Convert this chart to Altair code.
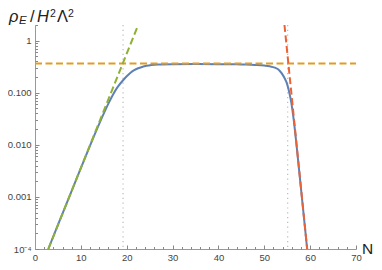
import altair as alt
import pandas as pd

FONT = "Liberation Sans"

# ---- data ----
blue_N = [2.9, 5, 8, 11, 14, 16, 17, 18, 19.3, 20, 21.2, 22, 23.3, 24.3, 25.4, 27, 30, 35, 40,
          44, 46, 48, 50, 51.2, 52.3, 53.3, 54.3, 55.0, 55.5, 55.9, 56.4, 57, 58, 59.35]
blue_rho = [1.0e-4, 2.9e-4, 1.3e-3, 5.9e-3, 0.0253, 0.062, 0.092, 0.128, 0.178, 0.207, 0.258,
            0.283, 0.312, 0.330, 0.342, 0.349, 0.353, 0.355, 0.354,
            0.351, 0.347, 0.341, 0.332, 0.322, 0.303, 0.268, 0.200, 0.145, 0.097, 0.064,
            0.031, 0.0105, 1.45e-3, 1.0e-4]

green_N = [2.9, 22.5]
green_rho = [1.0e-4, 2.0]

red_N = [54.4, 59.35]
red_rho = [2.0, 1.0e-4]

orange_N = [0, 70]
orange_rho = [0.364, 0.364]

vlines_N = [19.2, 55.1]

x_major = [0, 10, 20, 30, 40, 50, 60, 70]
x_minor = [2, 4, 6, 8, 12, 14, 16, 18, 22, 24, 26, 28, 32, 34, 36, 38,
           42, 44, 46, 48, 52, 54, 56, 58, 62, 64, 66, 68]
y_major = [1e-4, 1e-3, 1e-2, 1e-1, 1]
y_minor_mult = [2, 3, 4, 5, 6, 7, 8, 9]
y_minor = [m * d for d in [1e-4, 1e-3, 1e-2, 1e-1] for m in y_minor_mult] + [2]

W, H = 321, 224
TICK = "#888888"
MAJ, MIN = 4, 2.5

xs = alt.Scale(domain=[0, 70], nice=False, zero=False)
ys = alt.Scale(type="log", domain=[1e-4, 2], nice=False)

x_axis = alt.Axis(values=x_major, labelFont=FONT, labelFontSize=9.5, labelColor="#444",
                  domainColor="#999", domainWidth=1, ticks=False, tickSize=0,
                  labelPadding=3, grid=False, title=None, labelFlush=False)
y_axis = alt.Axis(values=y_major, labelFont=FONT, labelFontSize=9.5, labelColor="#444",
                  domainColor="#999", domainWidth=1, ticks=False, tickSize=0,
                  labelPadding=4, grid=False, title=None, labelFlush=False,
                  labelExpr="datum.value < 0.0005 ? '10⁻⁴' : datum.value < 0.005 ? '0.001' : "
                            "datum.value < 0.05 ? '0.010' : datum.value < 0.5 ? '0.100' : '1'")

# major ticks: opposite-side axes moved onto the plot edge, so they point inward
maj_x = alt.Axis(orient="top", offset=-H, values=x_major, labels=False, domain=False,
                 ticks=True, tickColor=TICK, tickSize=MAJ, tickWidth=1, grid=False, title=None)
maj_y = alt.Axis(orient="right", offset=-W, values=y_major, labels=False, domain=False,
                 ticks=True, tickColor=TICK, tickSize=MAJ, tickWidth=1, grid=False, title=None)
# minor ticks: same-side axes pulled inward by their own length
min_x = alt.Axis(orient="bottom", offset=-MIN, values=x_minor, labels=False, domain=False,
                 ticks=True, tickColor=TICK, tickSize=MIN, tickWidth=1, grid=False, title=None)
min_y = alt.Axis(orient="left", offset=-MIN, values=y_minor, labels=False, domain=False,
                 ticks=True, tickColor=TICK, tickSize=MIN, tickWidth=1, grid=False, title=None)

blue_df = pd.DataFrame({"N": blue_N, "rho": blue_rho})
green_df = pd.DataFrame({"N": green_N, "rho": green_rho})
red_df = pd.DataFrame({"N": red_N, "rho": red_rho})
orange_df = pd.DataFrame({"N": orange_N, "rho": orange_rho})
vl_df = pd.DataFrame({"N": vlines_N})

rules = alt.Chart(vl_df).mark_rule(color="#bbbbbb", strokeWidth=1.2, strokeDash=[1.2, 3.6]).encode(
    x=alt.X("N:Q", scale=xs, axis=None))

blue = alt.Chart(blue_df).mark_line(color="#5E81B5", strokeWidth=2, interpolate="monotone").encode(
    x=alt.X("N:Q", scale=xs, axis=x_axis),
    y=alt.Y("rho:Q", scale=ys, axis=y_axis))

orange = alt.Chart(orange_df).mark_line(color="#E19C24", strokeWidth=2, strokeDash=[7, 3.5]).encode(
    x=alt.X("N:Q", scale=xs, axis=maj_x),
    y=alt.Y("rho:Q", scale=ys, axis=maj_y))

green = alt.Chart(green_df).mark_line(color="#8FB032", strokeWidth=2, strokeDash=[7, 3.5]).encode(
    x=alt.X("N:Q", scale=xs, axis=min_x),
    y=alt.Y("rho:Q", scale=ys, axis=min_y))

red = alt.Chart(red_df).mark_line(color="#EB6235", strokeWidth=2, strokeDash=[7, 3.5]).encode(
    x=alt.X("N:Q", scale=xs, axis=None),
    y=alt.Y("rho:Q", scale=ys, axis=None))


def txt(s, x, y, size, style="normal"):
    return alt.Chart(pd.DataFrame({"t": [s]})).mark_text(
        align="left", baseline="alphabetic", font=FONT, fontSize=size, fontStyle=style,
        color="#222").encode(text="t:N", x=alt.value(x), y=alt.value(y))


labels = [
    txt("ρ", -26, -3, 16.5, "italic"),
    txt("E", -16, -1, 11.5, "italic"),
    txt("/", -5, -3, 16.5),
    txt("H", 2, -3, 16.5, "italic"),
    txt("2", 15, -8, 10.5),
    txt("Λ", 22, -3, 16.5),
    txt("2", 33, -8, 10.5),
    txt("N", W + 6, H + 5, 15.5),
]

chart = alt.layer(rules, blue, orange, green, red, *labels).resolve_axis(
    x="independent", y="independent"
).properties(
    width=W, height=H,
    autosize=alt.AutoSizeParams(type="none"),
    padding={"left": 27, "top": 17, "right": 18, "bottom": 13},
).configure_view(stroke=None)

chart.save("out.html", embed_options={"renderer": "svg", "actions": False})
